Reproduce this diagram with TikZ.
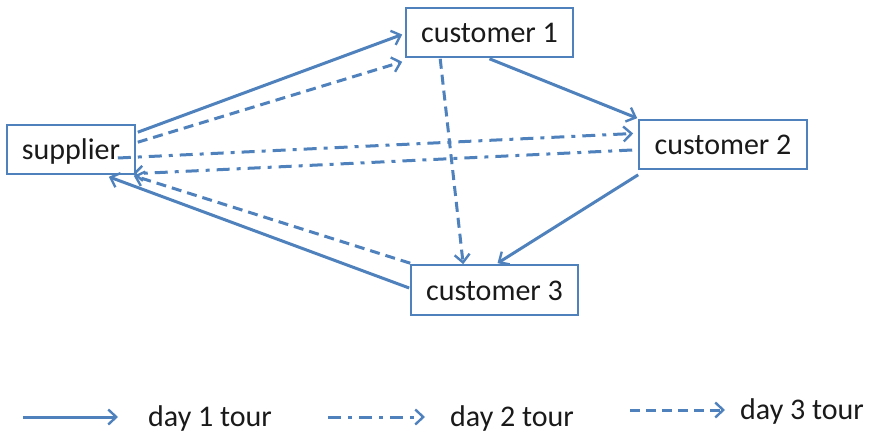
\documentclass[tikz,border=0pt]{standalone}
\usepackage{fontspec}
\setmainfont{Carlito}
\usetikzlibrary{arrows.meta,calc}
\definecolor{tourblue}{HTML}{4F81BD}
\definecolor{inktext}{HTML}{1A1A1A}
\begin{document}
\begin{tikzpicture}[x=1pt,y=-1pt,
  box/.style={draw=tourblue,line width=1.6pt,inner sep=0pt,minimum height=49pt,
    text=inktext,text height=20pt,text depth=0pt,font=\fontsize{30}{36}\selectfont},
  tour/.style={draw=tourblue,line width=3pt,
    -{Straight Barb[length=8pt,width=15pt,line width=2.4pt]}},
  day1/.style={tour},
  day2/.style={tour,dash pattern=on 13pt off 7pt on 4pt off 7pt},
  day3/.style={tour,dash pattern=on 10pt off 6pt},
  legendtext/.style={anchor=base west,inner sep=0pt,text=inktext,
    font=\fontsize{30}{36}\selectfont}]
\path[use as bounding box] (0,0) rectangle (872,433);

% stops
\node[box,minimum width=128pt] (supplier) at (71,149.5) {supplier};
\node[box,minimum width=167pt] (c1) at (489.5,32.5) {customer 1};
\node[box,minimum width=168pt] (c2) at (723,144.5) {customer 2};
\node[box,minimum width=167pt,minimum height=50pt] (c3) at (494.5,290) {customer 3};

% day 1 tour: supplier -> customer 1 -> customer 2 -> customer 3 -> supplier
\draw[day1] ($(supplier.north east)+(2,8)$) -- ($(c1.west)+(-3,2)$);
\draw[day1] ($(c1.south)+(0,1)$) -- ($(c2.north west)+(-1,-1)$);
\draw[day1] ($(c2.south west)+(0,5)$) -- ($(c3.north)+(3,-1)$);
\draw[day1] ($(c3.west)+(-1,-2)$) -- ($(supplier.south east)+(-27,2)$);

% day 2 tour: supplier -> customer 2 -> supplier
\draw[day2] ($(supplier.east)+(-18,8.5)$) -- ($(c2.west)+(-5,-11)$);
\draw[day2] ($(c2.west)+(-6,5.5)$) -- ($(supplier.south east)+(-3,-1)$);

% day 3 tour: supplier -> customer 1 -> customer 3 -> supplier
\draw[day3] ($(supplier.north east)+(2,18)$) -- ($(c1.south west)+(-3,4)$);
\draw[day3] ($(c1.south west)+(35,1)$) -- ($(c3.north west)+(53,0)$);
\draw[day3] ($(c3.north west)+(0,-1)$) -- ($(supplier.south east)+(-2,1)$);

% legend
\coordinate (l1a) at (23,417);  \coordinate (l1b) at (118,417);
\coordinate (l2a) at (328,417); \coordinate (l2b) at (425,417);
\coordinate (l3a) at (630,410); \coordinate (l3b) at (725,410);
\draw[day1] (l1a) -- (l1b);
\draw[day2] (l2a) -- (l2b);
\draw[day3] (l3a) -- (l3b);
\node[legendtext] (t1) at (148,426) {day 1 tour};
\node[legendtext] (t2) at (450,426) {day 2 tour};
\node[legendtext] (t3) at (740,419) {day 3 tour};
\end{tikzpicture}
\end{document}
